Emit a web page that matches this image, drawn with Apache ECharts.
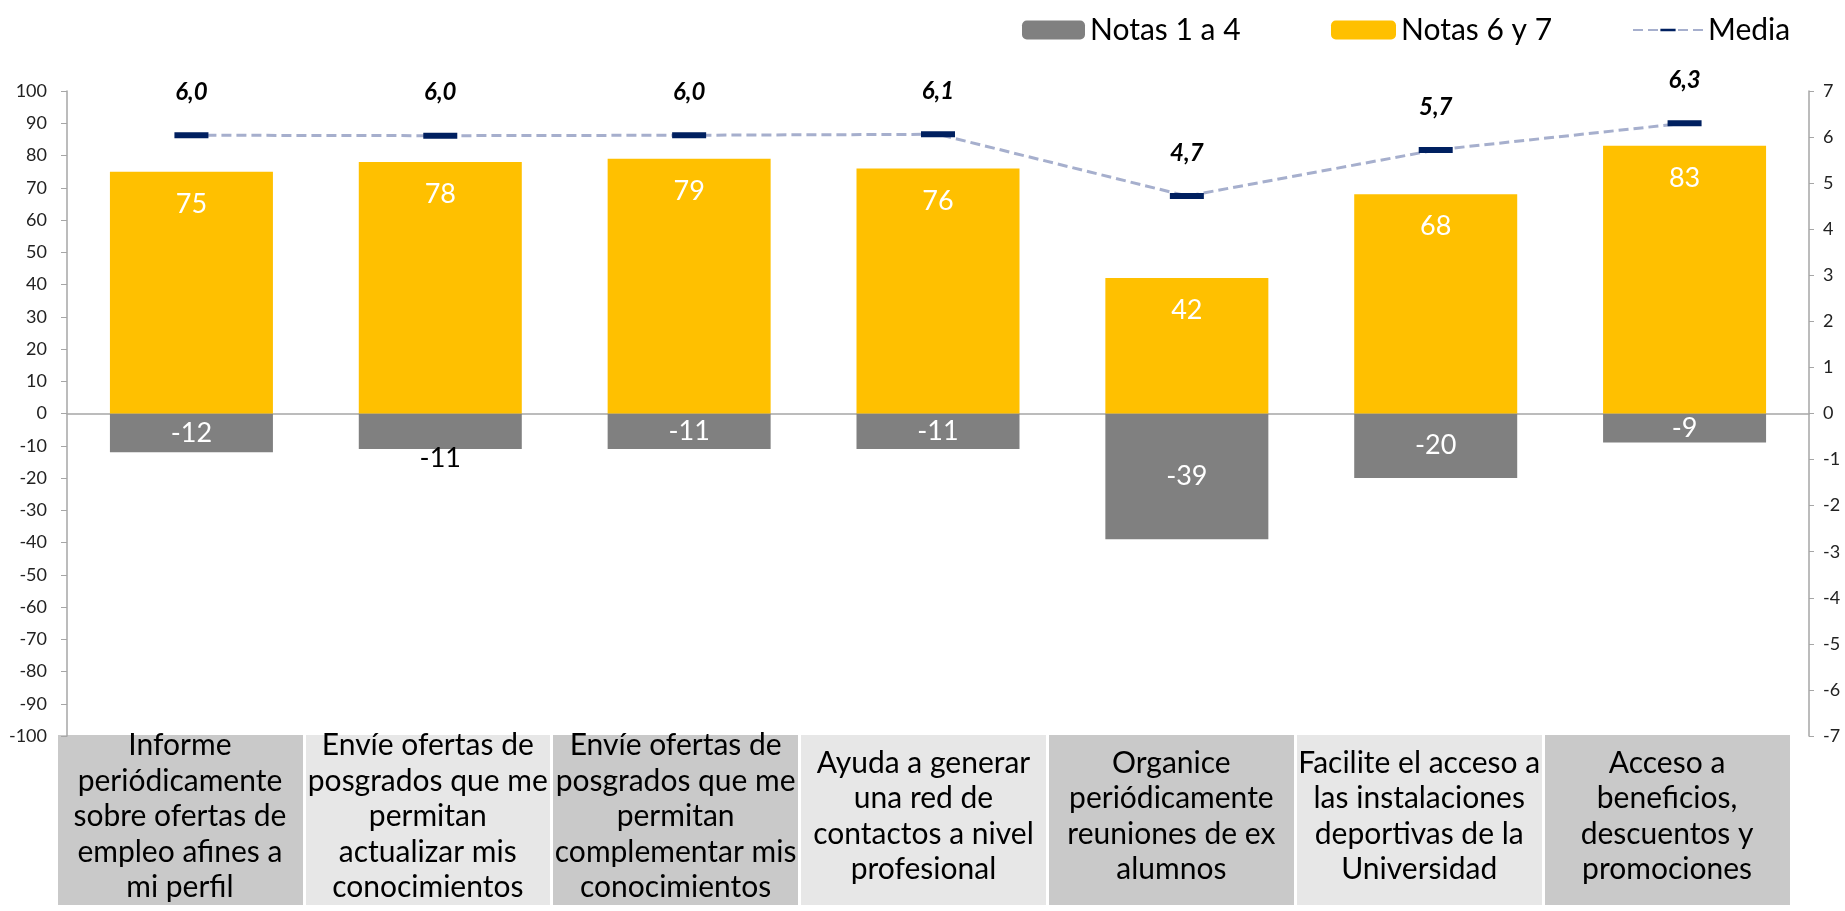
<!DOCTYPE html>
<html>
<head>
<meta charset="utf-8">
<script src="https://cdn.jsdelivr.net/npm/echarts@6/dist/echarts.min.js"></script>
<style>
html,body{margin:0;padding:0;background:#fff;}
#chart{width:1845px;height:911px;}
</style>
</head>
<body>
<div id="chart"></div>
<script>
const categories = [
  'Informe\nperiódicamente\nsobre ofertas de\nempleo afines a\nmi perfil',
  'Envíe ofertas de\nposgrados que me\npermitan\nactualizar mis\nconocimientos',
  'Envíe ofertas de\nposgrados que me\npermitan\ncomplementar mis\nconocimientos',
  'Ayuda a generar\nuna red de\ncontactos a nivel\nprofesional',
  'Organice\nperiódicamente\nreuniones de ex\nalumnos',
  'Facilite el acceso a\nlas instalaciones\ndeportivas de la\nUniversidad',
  'Acceso a\nbeneficios,\ndescuentos y\npromociones'
];
const notas14 = [-12, -11, -11, -11, -39, -20, -9];
const notas67 = [75, 78, 79, 76, 42, 68, 83];
const media = [6.04, 6.03, 6.04, 6.06, 4.72, 5.72, 6.3];
const leftAxis = {min: -100, max: 100, interval: 10};
const rightAxis = {min: -7, max: 7, interval: 1};

const FONT = 'Lato';
// square bounding box, visible part is a flat bar (so legend icon shows a bar too)
const BAR_SYMBOL = 'path://M0,-7L0.01,-7L0,-7Z M0,0H17V3H0Z M0,10L0.01,10L0,10Z';

const gray14 = notas14.map((v, i) => {
  if (i === 1) {
    return {value: v, label: {position: 'bottom', distance: -4, color: '#000'}};
  }
  return v;
});

const chart = echarts.init(document.getElementById('chart'), null, {renderer: 'canvas'});
const legendText = {fontFamily: FONT, fontSize: 30, color: '#000'};
chart.setOption({
  animation: false,
  textStyle: {fontFamily: FONT},
  legend: [
    {data: ['Notas 1 a 4'], left: 1017, top: 10, itemWidth: 63, itemHeight: 19, textStyle: legendText},
    {data: ['Notas 6 y 7'], left: 1326, top: 10, itemWidth: 65, itemHeight: 19, textStyle: legendText},
    {data: ['Media'], left: 1627, top: 10, itemWidth: 70, itemHeight: 19, textStyle: legendText}
  ],
  grid: [
    {left: 67, right: 36, top: 91, bottom: 175},
    {left: 56, right: 54, top: 735, bottom: 6}
  ],
  xAxis: [
    {
      type: 'category', gridIndex: 0, data: categories,
      axisLine: {show: true, onZero: true, lineStyle: {color: '#A6A6A6', width: 1.5}},
      axisTick: {show: false}, axisLabel: {show: false}, splitLine: {show: false}
    },
    {
      type: 'category', gridIndex: 1, data: categories, position: 'bottom',
      axisLine: {show: false, onZero: false}, axisTick: {show: false},
      splitArea: {show: true, areaStyle: {color: ['#C9C9C9', '#E7E7E7']}},
      splitLine: {show: true, lineStyle: {color: '#FFFFFF', width: 3}},
      axisLabel: {
        interval: 0, inside: true, margin: 88.5, verticalAlign: 'middle', align: 'center',
        fontFamily: FONT, fontSize: 30, lineHeight: 35.5, color: '#000'
      }
    }
  ],
  yAxis: [
    {
      type: 'value', gridIndex: 0, position: 'left',
      min: leftAxis.min, max: leftAxis.max, interval: leftAxis.interval,
      axisLine: {show: true, lineStyle: {color: '#A6A6A6', width: 1.5}},
      axisTick: {show: true, length: 6, lineStyle: {color: '#A6A6A6'}},
      splitLine: {show: false},
      axisLabel: {fontFamily: FONT, fontSize: 18, color: '#222', margin: 20}
    },
    {
      type: 'value', gridIndex: 0, position: 'right',
      min: rightAxis.min, max: rightAxis.max, interval: rightAxis.interval,
      axisLine: {show: true, lineStyle: {color: '#A6A6A6', width: 1.5}},
      axisTick: {show: true, length: 5, lineStyle: {color: '#A6A6A6'}},
      splitLine: {show: false},
      axisLabel: {fontFamily: FONT, fontSize: 18, color: '#222', margin: 14}
    },
    {
      type: 'value', gridIndex: 1, show: false, min: 0, max: 1
    }
  ],
  series: [
    {
      name: 'Notas 1 a 4', type: 'bar', stack: 'total', xAxisIndex: 0, yAxisIndex: 0,
      barWidth: '65.5%', data: gray14,
      itemStyle: {color: '#808080'},
      label: {show: true, position: 'inside', color: '#fff', fontFamily: FONT, fontSize: 27}
    },
    {
      name: 'Notas 6 y 7', type: 'bar', stack: 'total', xAxisIndex: 0, yAxisIndex: 0,
      barWidth: '65.5%', data: notas67,
      itemStyle: {color: '#FFC000'},
      label: {show: true, position: 'insideTop', distance: 19, color: '#fff', fontFamily: FONT, fontSize: 27}
    },
    {
      name: 'Media', type: 'line', xAxisIndex: 0, yAxisIndex: 1, data: media, z: 5,
      symbol: BAR_SYMBOL, symbolSize: [34, 34],
      itemStyle: {color: '#002060'},
      lineStyle: {color: '#A6AFCD', width: 3, type: [10, 5]},
      label: {
        show: true, position: 'top', distance: 14, color: '#000',
        fontFamily: FONT, fontSize: 24, fontWeight: 'bold', fontStyle: 'italic',
        formatter: p => p.value.toFixed(1).replace('.', ',')
      }
    }
  ]
});
</script>
</body>
</html>
